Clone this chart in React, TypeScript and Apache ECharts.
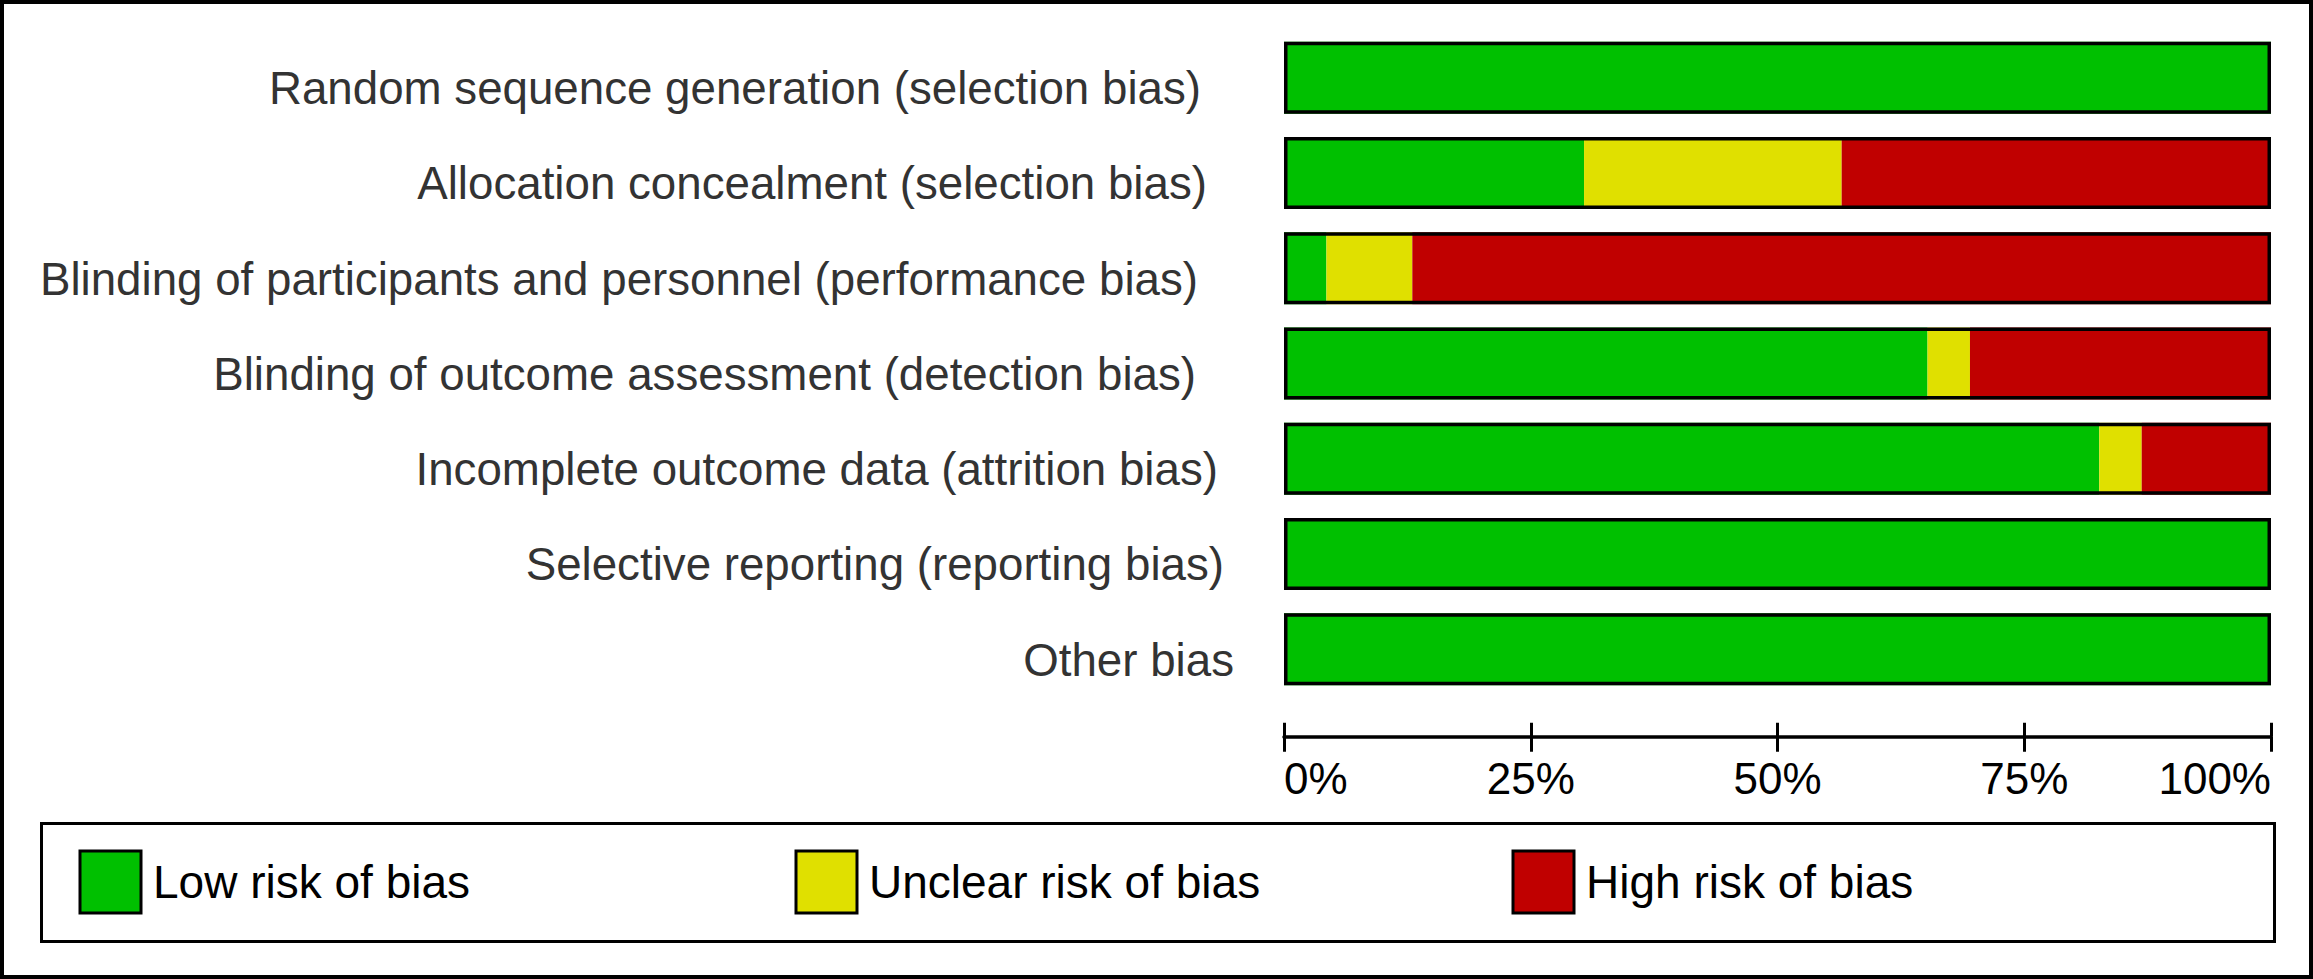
import React, { useEffect, useRef } from "react";
import * as echarts from "echarts";

const categories = [
  "Random sequence generation (selection bias)",
  "Allocation concealment (selection bias)",
  "Blinding of participants and personnel (performance bias)",
  "Blinding of outcome assessment (detection bias)",
  "Incomplete outcome data (attrition bias)",
  "Selective reporting (reporting bias)",
  "Other bias",
];
const lowRisk = [100, 30.4, 4.3, 65.2, 82.6, 100, 100];
const unclearRisk = [0, 26.1, 8.7, 4.3, 4.3, 0, 0];
const highRisk = [0, 43.5, 87.0, 30.5, 13.1, 0, 0];
const outline = [100, 100, 100, 100, 100, 100, 100];
const seriesNames = ["Low risk of bias", "Unclear risk of bias", "High risk of bias"];
const seriesColors = ["#00c000", "#e0e000", "#c00000"];
const tickValues = [0, 25, 50, 75, 100];
// horizontal nudge of each category label (style only)
const labelShift = [-9, -3, -12, -14, 8, 14, 24];

const FONT = "'Liberation Sans', Arial, Helvetica, sans-serif";

export default function App() {
  const ref = useRef<HTMLDivElement>(null);
  useEffect(() => {
    if (!ref.current) return;
    const chart = echarts.init(ref.current, undefined, { renderer: "svg" });
    const barW = 72;
    const valueAxisBase = {
      type: "value" as const,
      min: tickValues[0],
      max: tickValues[tickValues.length - 1],
      interval: 25,
      position: "bottom" as const,
      offset: 40,
      splitLine: { show: false },
    };
    const legendBase = (name: string, i: number, left: number) => ({
      show: true,
      data: [name],
      left,
      top: 849.5,
      padding: 0,
      itemWidth: 61,
      itemHeight: 62,
      icon: "rect",
      selectedMode: false,
      itemStyle: { borderColor: "#000", borderWidth: 3, color: seriesColors[i] },
      textStyle: { fontSize: 46, color: "#000", fontFamily: FONT, padding: [0, 0, 0, 7] },
    });
    chart.setOption({
      animation: false,
      backgroundColor: "#fff",
      textStyle: { fontFamily: FONT },
      grid: { left: 1284, width: 987, top: 30, height: 666.75, containLabel: false },
      xAxis: [
        {
          ...valueAxisBase,
          axisLine: { show: true, lineStyle: { color: "#000", width: 3.5 } },
          axisTick: { show: true, length: 15, lineStyle: { color: "#000", width: 3 } },
          axisLabel: {
            formatter: "{value}%",
            fontSize: 44,
            color: "#000",
            fontFamily: FONT,
            margin: 20,
            alignMinLabel: "left",
            alignMaxLabel: "right",
          },
        },
        {
          ...valueAxisBase,
          axisLine: { show: false },
          axisTick: { show: true, inside: true, length: 14, lineStyle: { color: "#000", width: 3 } },
          axisLabel: { show: false },
        },
      ],
      yAxis: {
        type: "category",
        data: categories,
        inverse: true,
        axisLine: { show: false },
        axisTick: { show: false },
        splitLine: { show: false },
        axisLabel: { show: false },
      },
      legend: [
        legendBase(seriesNames[0], 0, 78.5),
        legendBase(seriesNames[1], 1, 794.5),
        legendBase(seriesNames[2], 2, 1511.5),
      ],
      graphic: [
        {
          type: "rect",
          shape: { x: 2, y: 2, width: 2309, height: 975 },
          style: { fill: "none", stroke: "#000", lineWidth: 4 },
          silent: true,
          z: 100,
        },
        {
          type: "rect",
          shape: { x: 41.5, y: 823.5, width: 2233, height: 118 },
          style: { fill: "none", stroke: "#000", lineWidth: 3 },
          silent: true,
          z: 100,
        },
      ],
      series: [
        ...[lowRisk, unclearRisk, highRisk].map((d, i) => ({
          type: "bar",
          name: seriesNames[i],
          stack: "risk",
          data: d,
          barWidth: barW,
          barGap: "-100%",
          itemStyle: { color: seriesColors[i] },
          emphasis: { disabled: true },
        })),
        {
          type: "bar",
          name: "outline",
          data: outline.map((v, i) => ({
            value: v,
            label: { offset: [labelShift[i], 11] },
          })),
          barWidth: barW,
          barGap: "-100%",
          z: 5,
          itemStyle: { color: "rgba(0,0,0,0)", borderColor: "#000", borderWidth: 3.5 },
          label: {
            show: true,
            position: "left",
            distance: 74,
            formatter: "{b}",
            fontSize: 45.7,
            color: "#333",
            fontFamily: FONT,
          },
          emphasis: { disabled: true },
          silent: true,
        },
      ],
    });
    return () => chart.dispose();
  }, []);
  return (
    <div
      ref={ref}
      style={{ position: "absolute", left: 0, top: 0, width: 2313, height: 979 }}
    />
  );
}
